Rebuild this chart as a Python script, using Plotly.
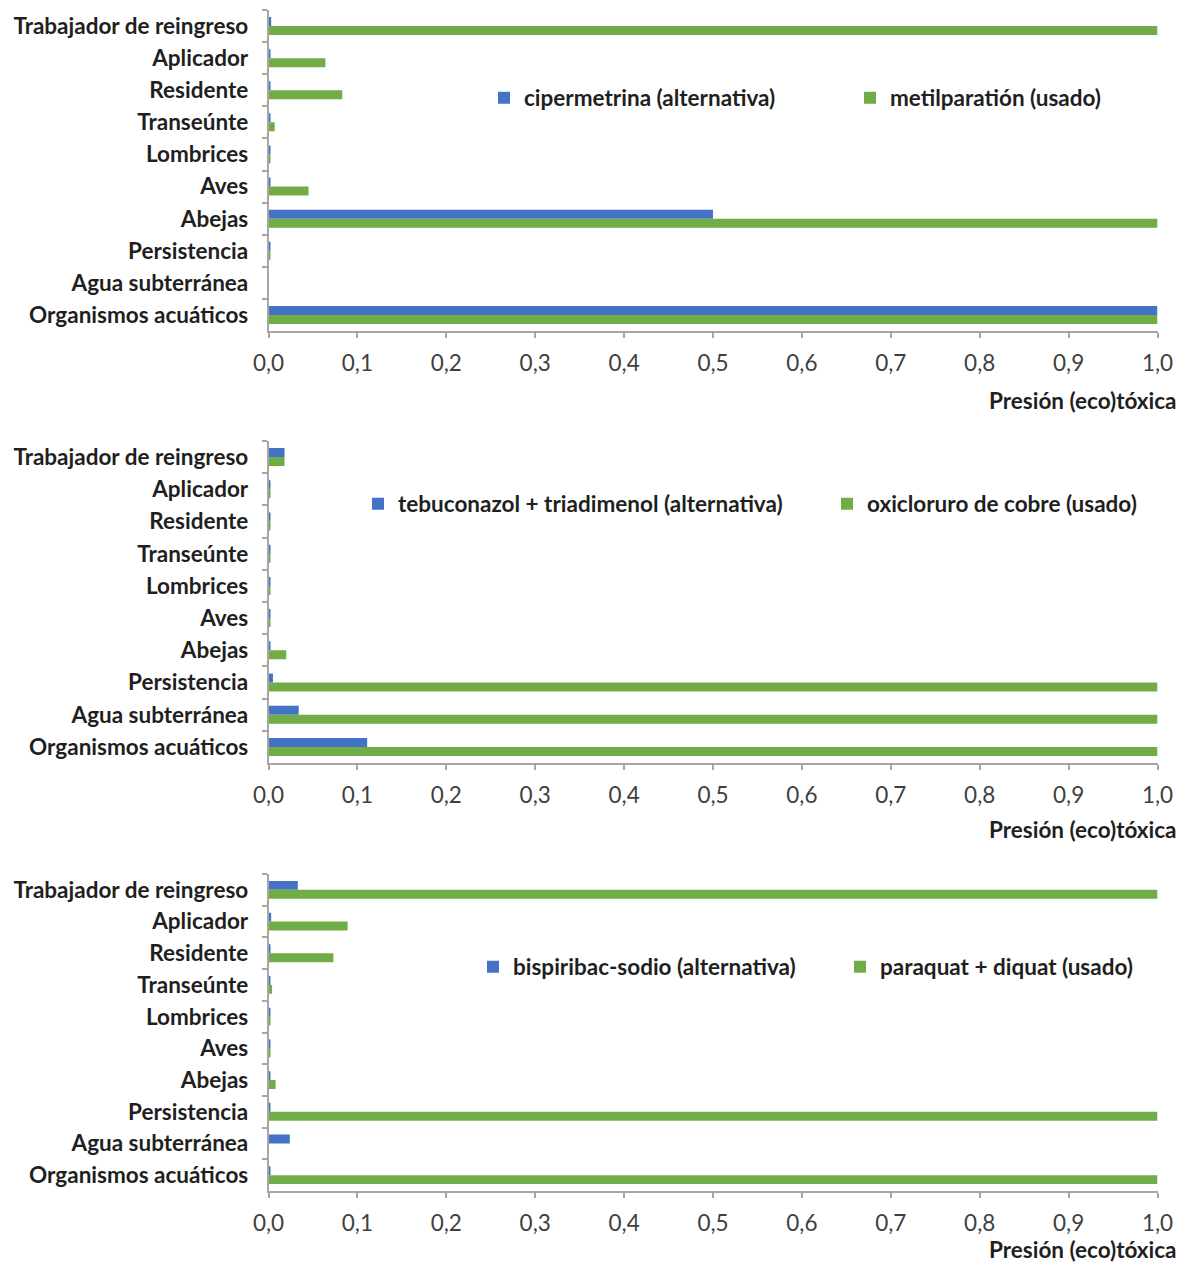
import plotly.graph_objects as go

# Receptor categories, listed top to bottom
categorias = [
    "Trabajador de reingreso", "Aplicador", "Residente", "Transeúnte",
    "Lombrices", "Aves", "Abejas", "Persistencia", "Agua subterránea",
    "Organismos acuáticos",
]

# Panel 1: insecticides
p1_alt_nombre = "cipermetrina (alternativa)"
p1_usado_nombre = "metilparatión (usado)"
p1_alt = [0.003, 0.002, 0.002, 0.002, 0.002, 0.002, 0.50, 0.002, 0.0, 1.0]
p1_usado = [1.0, 0.064, 0.083, 0.007, 0.002, 0.045, 1.0, 0.002, 0.0, 1.0]

# Panel 2: fungicides
p2_alt_nombre = "tebuconazol + triadimenol (alternativa)"
p2_usado_nombre = "oxicloruro de cobre (usado)"
p2_alt = [0.018, 0.002, 0.002, 0.002, 0.002, 0.002, 0.002, 0.005, 0.034, 0.111]
p2_usado = [0.018, 0.002, 0.002, 0.002, 0.002, 0.002, 0.020, 1.0, 1.0, 1.0]

# Panel 3: herbicides
p3_alt_nombre = "bispiribac-sodio (alternativa)"
p3_usado_nombre = "paraquat + diquat (usado)"
p3_alt = [0.033, 0.003, 0.002, 0.002, 0.002, 0.002, 0.002, 0.002, 0.024, 0.002]
p3_usado = [1.0, 0.089, 0.073, 0.004, 0.002, 0.002, 0.008, 1.0, 0.0, 1.0]

x_ticks = [0.0, 0.1, 0.2, 0.3, 0.4, 0.5, 0.6, 0.7, 0.8, 0.9, 1.0]
titulo_x = "Presión (eco)tóxica"

AZUL = "#4472C4"
VERDE = "#70AD47"
W, H = 1185, 1264
FONT = "Lato"
FS = 22.5
EJE = "#A6A6A6"
TXT = "#1F1F1F"

paneles = [
    (p1_alt_nombre, p1_alt, p1_usado_nombre, p1_usado),
    (p2_alt_nombre, p2_alt, p2_usado_nombre, p2_usado),
    (p3_alt_nombre, p3_alt, p3_usado_nombre, p3_usado),
]

# pixel geometry (top, bottom of each plot area; x of value 0 and 1)
y_px = [(10, 331), (441, 763), (874, 1191)]
x0_px, x1_px = 268.5, 1157.5
# legend entries: (left x of swatch for alt, centre y, left x of swatch for used)
legend_px = [(502, 98, 868), (376, 504, 845), (491, 967, 858)]
title_px = [400, 829, 1249]
SWATCH_OFF = 18  # swatch offset inside a legend box

fig = go.Figure()
layout = dict(
    template="none",
    width=W, height=H,
    margin=dict(l=0, r=0, t=0, b=0, autoexpand=False),
    paper_bgcolor="white", plot_bgcolor="white",
    barmode="group", bargap=0.44, bargroupgap=0.0,
    separators=",.",
    font=dict(family=FONT, size=FS, color=TXT),
    showlegend=True,
    annotations=[],
)

n_leg = 0
for i, (na, va, nu, vu) in enumerate(paneles):
    k = "" if i == 0 else str(i + 1)
    lx, ly, lx2 = legend_px[i]
    for nombre, vals, color, xl in ((na, va, AZUL, lx), (nu, vu, VERDE, lx2)):
        n_leg += 1
        leg = "legend" if n_leg == 1 else "legend" + str(n_leg)
        fig.add_trace(go.Bar(
            y=categorias, x=vals, name=nombre, orientation="h",
            marker=dict(color=color, line=dict(width=0)),
            xaxis="x" + k, yaxis="y" + k, legend=leg,
        ))
        layout[leg] = dict(
            x=(xl - SWATCH_OFF) / W, y=1 - ly / H,
            xanchor="left", yanchor="middle",
            orientation="h", bgcolor="rgba(0,0,0,0)", borderwidth=0,
            font=dict(family=FONT, size=FS, color=TXT, weight="bold"),
            itemclick=False,
        )
    top, bot = y_px[i]
    layout["xaxis" + k] = dict(
        domain=[x0_px / W, x1_px / W], range=[0, 1.0],
        anchor="y" + k, tickvals=x_ticks, tickformat=".1f",
        automargin=False,
        showline=True, linecolor=EJE, linewidth=1.5,
        ticks="outside", ticklen=5, tickcolor=EJE, tickwidth=1.5,
        showgrid=False, zeroline=False,
        tickfont=dict(family=FONT, size=FS, color="#404040"),
        ticklabelstandoff=6,
    )
    layout["yaxis" + k] = dict(
        domain=[1 - bot / H, 1 - top / H], anchor="x" + k,
        type="category", categoryorder="array", categoryarray=categorias,
        autorange="reversed", automargin=False,
        showline=True, linecolor=EJE, linewidth=1.5,
        ticks="outside", ticklen=5, tickcolor=EJE, tickwidth=1.5,
        tickson="boundaries", showgrid=False, zeroline=False,
        tickfont=dict(family=FONT, size=FS, color=TXT, weight="bold"),
        ticklabelstandoff=14,
    )
    layout["annotations"].append(dict(
        text=titulo_x, xref="paper", yref="paper",
        x=1179 / W, y=1 - title_px[i] / H, xanchor="right", yanchor="middle",
        showarrow=False,
        font=dict(family=FONT, size=FS, color=TXT, weight="bold"),
    ))

fig.update_layout(**layout)
fig.write_html("out.html")
